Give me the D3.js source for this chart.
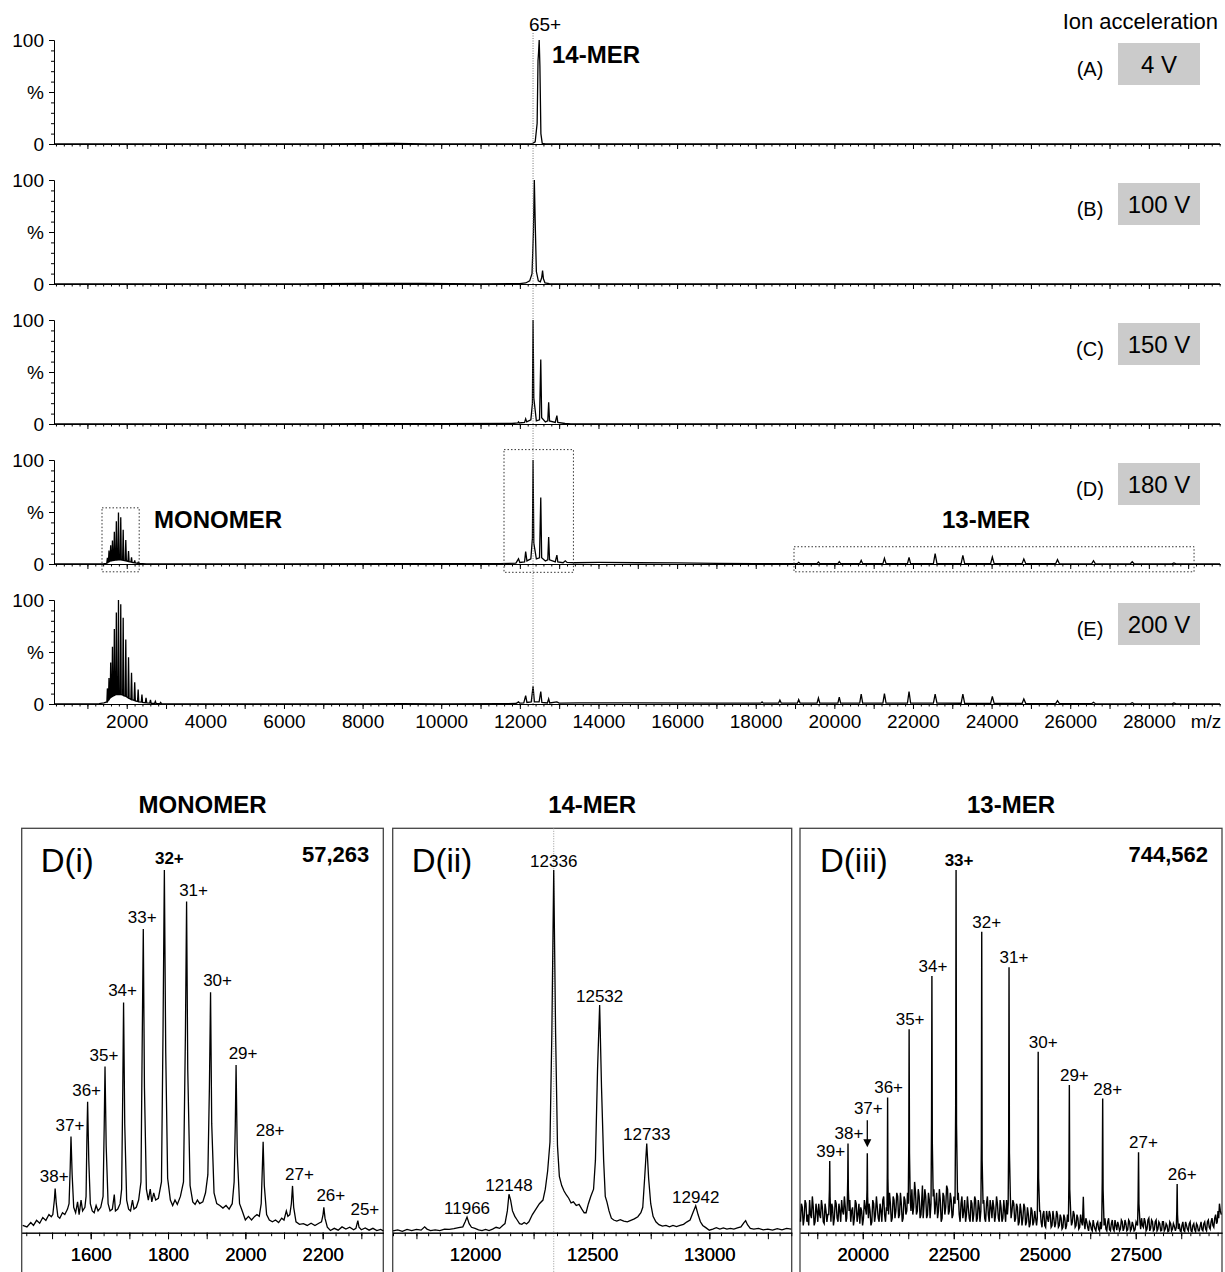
<!DOCTYPE html>
<html>
<head>
<meta charset="utf-8">
<script src="https://cdn.jsdelivr.net/npm/d3@7"></script>
<style>
  body { margin: 0; background: #fff; }
  svg { font-family: "Liberation Sans", Arial, sans-serif; }
</style>
</head>
<body>
<svg id="chart"></svg>
<script>
// ---------- overview spectra (A)-(E): [m/z, relative intensity %]
const specA = [[150,0],[7000,0],[8000,0.3],[8800,0.5],[9600,0.2],[11000,0],[12300,0],[12390,2],
  [12440,20],[12462,80],[12476,88],[12492,100],[12510,75],[12535,10],[12570,0.5],[12650,0],[29810,0]];

const specB = [[150,0],[6500,0],[7000,0.4],[8000,0.6],[9500,0.5],[11000,0.2],[12000,0.3],[12150,1],
  [12250,3],[12310,10],[12345,50],[12368,100],[12390,60],[12420,12],[12470,3],[12520,2],[12555,6],
  [12578,13],[12600,5],[12640,1],[12750,0.3],[29810,0]];

const specC = [[150,0],[7000,0],[8000,0.3],[10000,0.3],[11800,0.5],[11950,1],[11966,2],[11985,1],
  [12120,1.5],[12148,5],[12175,2],[12280,4],[12320,20],[12336,100],[12355,25],[12420,3],[12500,4],
  [12532,62],[12555,6],[12650,2],[12710,3],[12733,21],[12755,3],[12900,1.5],[12942,8],[12965,1.5],
  [13150,0.5],[13300,0.2],[29810,0]];

const specD = [[150,0],[1400,0.2],[1480,0.6],
  [1493,1],[1508,6],[1523,1.5],[1535,2],[1549,13],[1563,2.5],[1578,3],[1592,18],[1606,3],
  [1623,3.2],[1637,22.5],[1651,3.4],[1671,3.5],[1685,31],[1699,3.6],[1722,3.8],[1736,41],[1750,3.9],
  [1776,4],[1790,49.5],[1804,4],[1834,4],[1848,45],[1862,3.8],[1895,3.6],[1910,33],[1925,3.4],
  [1961,3.2],[1976,23],[1991,3],[2031,2.6],[2046,12.5],[2061,2.2],[2107,2],[2122,6.5],[2137,1.6],
  [2188,1.2],[2203,3.5],[2218,1],[2276,0.7],[2291,1.6],[2306,0.5],[2500,0.2],[3000,0],[6000,0],
  [9000,0.3],[11500,0.3],
  [11900,0.8],[11966,5],[12000,1.5],[12120,2],[12148,12],[12180,3],[12280,5],[12320,25],[12336,100],
  [12355,20],[12420,5],[12500,6],[12532,64],[12555,6],[12650,3],[12710,4],[12733,26],[12755,4],
  [12900,2],[12942,8.6],[12965,2],[13100,1.2],[13155,3],[13200,1.5],
  [13400,1.2],[14000,1.5],[15000,1.2],[16000,1],[17000,0.6],[18000,0.4],[19000,0.3],
  [19060,0.3],[19093,1.6],[19130,0.3],[19560,0.3],[19595,1.9],[19630,0.3],[20090,0.3],[20125,2.2],
  [20160,0.3],[20645,0.3],[20683,3.5],[20720,0.3],[21235,0.3],[21274,5.4],[21315,0.3],[21860,0.3],
  [21900,6.4],[21940,0.3],[22520,0.3],[22564,10],[22610,0.3],[23225,0.3],[23269,8.3],[23315,0.3],
  [23975,0.3],[24019,6.7],[24065,0.3],[24775,0.3],[24820,4.8],[24870,0.3],[25630,0.3],[25676,4.2],
  [25725,0.3],[26545,0.2],[26592,3.2],[26640,0.2],[27530,0.2],[27577,2.2],[27625,0.2],[28590,0.1],
  [28638,1],[28690,0.1],[29810,0]];

const specE = [[150,0],[1300,0.3],[1420,1],
  [1495,2],[1508,15],[1521,3],[1536,4],[1549,25],[1562,5],[1579,6],[1592,40],[1605,6.5],
  [1624,7],[1637,55],[1650,7.5],[1672,8],[1685,72],[1698,8.5],[1723,9],[1736,88],[1749,9],
  [1777,9],[1790,100],[1803,9],[1835,9],[1848,96],[1861,9],[1896,8.5],[1910,83],[1924,8],
  [1961,7.5],[1976,62],[1990,7],[2031,6],[2046,45],[2061,5.5],[2106,4.5],[2122,30],[2138,4],
  [2187,3.5],[2203,21],[2219,3],[2275,2.5],[2291,14],[2307,2],[2370,1.8],[2387,9],[2404,1.5],
  [2473,1.2],[2491,6],[2509,1],[2585,0.8],[2604,4],[2623,0.7],[2708,0.5],[2728,2.5],[2748,0.4],
  [2843,0.3],[2864,1.5],[2885,0.2],[3200,0.1],[8000,0.1],[9000,0.4],[10000,0.2],[11500,0.3],
  [11900,0.5],[11966,2],[12000,0.8],[12100,1],[12148,8],[12180,1.5],[12290,2],[12336,17],[12370,2],
  [12490,2],[12532,12],[12560,1.5],[12700,1],[12733,5],[12760,1],[12942,2],[13000,0.8],[13500,1],
  [15000,1],[17000,0.8],[18000,0.9],
  [18130,0.8],[18161,2],[18190,0.8],[18580,0.8],[18615,3.8],[18650,0.8],[19060,0.8],[19093,4.2],
  [19130,0.8],[19560,0.8],[19595,5.8],[19630,0.8],[20090,0.8],[20125,6.7],[20160,0.8],[20645,0.8],
  [20683,9.6],[20720,0.8],[21235,0.8],[21274,10],[21315,0.8],[21860,0.8],[21900,12],[21940,0.8],
  [22520,0.8],[22564,9.6],[22610,0.8],[23225,0.7],[23269,9.6],[23315,0.7],[23975,0.6],[24019,7.3],
  [24065,0.6],[24775,0.5],[24820,4.8],[24870,0.5],[25630,0.4],[25676,3.2],[25725,0.4],[26545,0.3],
  [26592,1.6],[26640,0.3],[27530,0.2],[27577,1.3],[27625,0.2],[28590,0.1],[28638,1],[28690,0.1],
  [29810,0]];

const spectra = [specA, specB, specC, specD, specE];
const panelLetters = ["(A)", "(B)", "(C)", "(D)", "(E)"];
const voltages = ["4 V", "100 V", "150 V", "180 V", "200 V"];
const overviewTickLabels = [2000,4000,6000,8000,10000,12000,14000,16000,18000,20000,22000,24000,26000,28000];
const mainPeakMz = 12336;

// ---------- expanded views of (D)
const monomerTrace = [[1424,2],[1435,1.6],[1445,2.8],[1452,2],[1460,3.4],[1468,2.6],[1476,4.2],
  [1484,3.4],[1492,5],[1498,4.4],
  [1502,5],[1506,9],[1508,12.2],[1511,8],[1515,4.5],[1520,4],[1527,5.5],[1533,5],[1540,6.5],
  [1544,8],[1547,18],[1549,26.5],[1552,16],[1556,7],[1561,5.5],[1566,8.5],[1570,5],[1575,9],
  [1579,6],[1585,7],
  [1588,10],[1590,25],[1592,36.1],[1595,20],[1599,8],[1604,6],[1609,5.5],[1614,7.5],[1619,6],[1626,7],
  [1632,10],[1635,30],[1637,45.8],[1640,24],[1645,8],[1650,6],[1656,6.5],[1661,10.5],[1664,6],
  [1670,6.5],[1676,8],
  [1680,12],[1683,40],[1685,63.5],[1688,30],[1693,9],[1698,6.5],[1703,6],[1708,9],[1712,6.5],
  [1718,7],[1724,9],
  [1730,14],[1733,50],[1736,83.7],[1739,40],[1744,12],[1749,9],[1754,12],[1758,8.5],[1763,11],
  [1768,9],[1775,9.5],
  [1783,14],[1787,55],[1790.5,100],[1794,50],[1799,15],[1806,9],[1812,7.5],[1818,9],[1824,7.8],[1832,10],
  [1840,14],[1845,55],[1848,91.3],[1851,45],[1857,13],[1864,8.5],[1870,7.8],[1876,9],[1882,8],
  [1890,8.5],[1897,11],
  [1903,16],[1907,40],[1910,66.3],[1913,30],[1919,11],[1926,8],[1934,7.5],[1942,6.8],[1950,7.5],
  [1958,6.5],[1966,8],
  [1971,14],[1974,30],[1976,46.2],[1979,22],[1985,8],[1992,6],[2000,3.5],[2008,4.5],[2016,3.5],
  [2024,4.5],[2030,5],[2036,4.5],
  [2041,8],[2044,18],[2046,25.1],[2049,13],[2055,5],[2062,3.5],[2070,3],[2078,3.5],[2086,2.8],
  [2094,4],[2100,3.5],[2106,6],[2110,4.5],[2115,5],
  [2119,8],[2122,12.9],[2125,7],[2131,3],[2140,2.3],[2150,2.5],[2160,2],[2170,2.6],[2180,2],
  [2190,2.6],[2197,3],
  [2201,5],[2203,7],[2206,4],[2212,1.5],[2220,0.6],[2230,1.2],[2240,0.7],[2250,1.6],[2260,1],
  [2270,1.5],[2280,0.8],[2286,1.2],
  [2289,2.5],[2291,3.3],[2294,1.5],[2300,0.8],[2310,1.3],[2320,0.7],[2330,1.2],[2340,0.6],
  [2350,0.9],[2357,0.5]];

const monomerPeaks = [["38+",1508,12.2],["37+",1549,26.5],["36+",1592,36.1],["35+",1637,45.8],
  ["34+",1685,63.5],["33+",1736,83.7],["32+",1790.5,100],["31+",1848,91.3],["30+",1910,66.3],
  ["29+",1976,46.2],["28+",2046,25.1],["27+",2122,12.9],["26+",2203,7],["25+",2291,3.3]];

const tetradecamerTrace = [[11650,0.5],[11670,0.8],[11690,0.4],[11710,0.9],[11730,0.6],[11750,0.9],
  [11770,0.7],[11785,1.6],[11795,1],[11810,0.6],[11830,0.8],[11850,0.6],[11870,1],[11890,0.9],
  [11910,1.1],[11930,1.4],[11948,1.6],
  [11958,3],[11966,4.3],[11975,2.5],[11985,1.5],[12000,1.2],[12015,0.8],[12030,0.6],[12045,0.9],
  [12060,0.6],[12075,1],[12090,1.5],[12105,1.2],[12118,2],[12128,2.5],
  [12138,6],[12145,10.6],[12152,9],[12160,6],[12170,4.5],[12180,3.5],[12190,2.5],[12200,2.3],
  [12210,2.8],[12220,2.4],[12230,3],[12245,5],[12260,6.5],[12275,8],[12290,9],[12300,12],[12310,17],
  [12320,25],[12328,55],[12336,100],[12344,55],[12352,24],[12360,15.5],[12370,13],[12380,11.5],
  [12390,10.4],[12400,9.5],[12410,8.2],[12420,8.5],[12432,7.5],[12444,7.8],[12456,6.5],[12466,5.5],
  [12474,5.5],[12484,8],[12494,10],[12506,12],[12514,20],[12523,45],[12532,62.8],[12540,40],
  [12549,20],[12556,10],[12563,8.5],[12572,6],[12582,4],[12592,3.5],[12605,3.2],[12620,3.6],
  [12635,3.2],[12650,3],[12665,3.4],[12680,3.8],[12695,4.4],[12708,5.5],[12716,7],[12724,15],
  [12733,24.6],[12741,15],[12750,8],[12760,4.5],[12772,3],[12785,2.2],[12800,1.8],[12815,2],
  [12830,1.6],[12845,2],[12860,1.7],[12875,2],[12890,2.3],[12905,3],[12918,3.5],[12930,5.5],
  [12942,7.4],[12952,5],[12962,3],[12972,2],[12985,1.4],[13000,0.7],[13015,1],[13030,1.4],
  [13045,1],[13060,1.3],[13075,1],[13090,1.2],[13105,1],[13120,1.3],[13135,1.6],[13148,2.8],
  [13155,3.3],[13163,2.2],[13175,1.2],[13190,1],[13210,1.2],[13230,0.8],[13250,1],[13270,0.7],
  [13290,1.1],[13310,0.8],[13330,1.2],[13350,1]];

const tetradecamerPeaks = [["11966",11966,4.3],["12148",12145,10.6],["12336",12336,100],
  ["12532",12532,62.8],["12733",12733,24.6],["12942",12942,7.4]];

const tridecamerTrace = [[18290,3],[18315,8],[18340,7],[18365,2],[18390,4],[18415,9],[18440,8],[18465,3],
  [18490,5],[18515,2],[18540,9],[18565,5],[18590,4],[18615,10],[18640,7],[18665,2],[18690,3],[18715,8],
  [18740,6],[18765,3],[18790,8],[18815,5],[18840,4],[18865,9],[18890,7],[18915,3],[18940,2.5],
  [18965,8],[18990,6],[19015,3],[19040,5],
  [19065,5],[19085,12],[19093,19.8],[19102,10],[19125,3],
  [19150,8],[19170,7],[19195,2],[19220,4],[19245,9],[19270,8],[19295,4],[19320,3],[19345,8],[19370,6],
  [19395,3],[19420,9],[19445,6],[19470,5],[19495,10],[19520,7],[19540,3],[19560,4],
  [19575,8],[19588,15],[19595,24.6],[19604,12],[19625,6],
  [19645,9],[19670,3],[19695,6],[19720,7],[19745,2],[19770,4],[19795,9],[19820,8],[19845,3],[19870,5],
  [19895,8],[19920,2.5],[19945,7],[19970,6],[19995,2],[20020,4],[20045,9],[20070,7],
  [20100,5],[20117,12],[20125,21.9],[20134,10],[20155,4],
  [20175,8],[20200,6],[20225,2],[20250,3],[20275,9],[20300,8],[20325,3],[20350,5],[20375,10],[20400,7],
  [20425,4],[20450,3],[20475,8],[20500,6],[20525,3],[20550,9],[20575,10],[20600,5],[20625,3],[20650,7],
  [20665,6],[20676,18],[20683,37.3],[20691,15],[20710,5],
  [20735,11],[20760,8],[20785,3],[20810,4],[20835,10],[20860,9],[20885,4],[20910,6],[20935,11],
  [20960,10],[20985,4],[21010,5],[21035,11],[21060,8],[21085,3],[21110,4],[21135,10],[21160,9],
  [21185,5],[21210,6],[21230,11],
  [21250,8],[21265,25],[21274,56.1],[21284,22],[21305,9],
  [21325,6],[21350,12],[21375,5],[21400,7],[21425,14],[21450,11],[21475,5],[21500,6],[21525,12],
  [21550,10],[21575,4],[21600,5],[21620,9],[21640,13],[21660,4],[21680,7],[21705,12],[21730,10],
  [21755,4],[21780,5],[21805,11],[21830,9],[21850,4],
  [21875,8],[21890,30],[21900,70.8],[21911,25],[21935,10],
  [21955,12],[21980,5],[22005,8],[22030,11],[22055,4],[22080,6],[22105,12],[22130,9],[22155,3],
  [22180,4],[22205,11],[22230,10],[22255,5],[22280,7],[22305,13],[22330,12],[22355,5],[22380,6],
  [22405,11],[22430,9],[22455,4],[22480,5],[22505,10],
  [22535,8],[22553,35],[22564,100],[22576,30],[22605,9],
  [22625,11],[22650,5],[22675,3],[22700,8],[22725,10],[22750,4],[22775,6],[22800,9],[22825,3],[22850,5],
  [22875,10],[22900,7],[22925,4],[22950,3],[22975,9],[23000,8],[23025,3],[23050,5],[23075,10],
  [23100,9],[23125,3],[23150,4],[23175,9],[23200,7],[23220,3],
  [23245,6],[23259,25],[23269,83],[23280,20],[23305,8],
  [23325,9],[23350,4],[23375,3],[23400,8],[23425,10],[23450,5],[23475,3],[23500,9],[23525,7],[23550,4],
  [23575,9],[23600,7],[23625,3],[23650,5],[23675,10],[23700,8],[23725,4],[23750,3],[23775,9],
  [23800,7],[23825,3],[23850,4],[23875,9],[23900,6],[23925,3],[23950,9],[23975,5],
  [23995,8],[24009,25],[24019,73.2],[24030,22],[24055,10],
  [24075,4],[24100,6],[24125,9],[24150,8],[24175,3],[24200,4],[24225,8],[24250,7],[24275,2],[24300,3],
  [24325,8],[24350,6],[24375,2],[24400,4],[24425,8],[24450,7],[24475,2],[24500,3],[24525,7],[24550,5],
  [24575,1.5],[24600,2.5],[24625,7],[24650,6],[24675,2],[24700,3],[24725,6],[24750,4],[24775,2],
  [24795,4],[24810,18],[24820,49.9],[24831,15],[24860,6],
  [24880,6],[24900,3],[24925,1.5],[24950,5],[24975,6],[25000,2],[25025,1.5],[25050,6],[25075,4],
  [25100,3],[25125,6],[25150,5],[25175,1.5],[25200,2],[25225,6],[25250,4],[25275,1.5],[25300,2.5],
  [25325,6],[25350,5],[25375,1.5],[25400,2],[25425,5],[25450,4],[25475,1],[25500,1.5],[25525,5],
  [25550,4],[25575,1],[25600,2],[25625,5],
  [25650,3],[25665,15],[25676,40.7],[25687,12],[25715,5],
  [25735,2],[25760,3],[25785,6],[25810,5],[25835,1.5],[25860,2],[25885,5],[25910,4],[25935,1],
  [25960,1.5],[25985,5],[26010,3],[26035,2],[26060,9.9],[26080,3],[26105,1],[26130,4],[26155,3],
  [26180,1.5],[26205,0.5],[26230,3],[26255,2.5],[26280,1],[26305,0.5],[26330,3.5],[26355,2],
  [26380,1],[26405,0.5],[26430,2.5],[26455,3],[26480,1],[26505,0.5],[26530,3],[26550,1],
  [26565,2],[26580,14],[26592,37],[26603,12],[26630,2],
  [26655,4],[26680,1],[26705,0.5],[26730,3],[26755,4],[26780,0.8],[26805,0.5],[26830,2.5],[26855,3.5],
  [26880,1],[26905,0.5],[26930,3.5],[26955,2],[26980,0.7],[27005,3],[27030,2],[27055,0.5],[27080,1],
  [27105,3.5],[27130,3],[27155,0.5],[27180,1.2],[27205,3.5],[27230,2.5],[27255,0.5],[27280,0.8],
  [27305,3.5],[27330,3],[27355,0.5],[27380,1],[27405,3],[27430,2],[27455,0.5],[27480,0.8],[27510,3],
  [27550,2],[27565,9],[27577,22.2],[27588,8],[27615,3],
  [27635,1],[27660,4],[27685,2],[27710,1.5],[27735,4],[27760,3],[27785,0.5],[27810,1],[27835,3.5],
  [27860,4],[27885,0.5],[27910,1.2],[27935,3.5],[27960,3],[27985,0.5],[28010,0.8],[28035,3],[28060,3.5],
  [28085,0.5],[28110,1],[28135,3],[28160,2.5],[28185,0.5],[28210,0.6],[28235,3],[28260,3],[28285,0.5],
  [28310,1],[28335,2.5],[28360,2],[28385,0.3],[28410,0.5],[28435,3],[28460,2.5],[28485,0.5],[28510,1],
  [28535,2.5],[28560,1.8],[28590,0.5],
  [28615,1.5],[28628,6],[28638,13.4],[28648,5],[28670,1],
  [28695,2.5],[28720,0.5],[28745,0.3],[28770,2],[28795,3],[28820,0.6],[28845,0.3],[28870,3],[28895,2],
  [28920,1],[28945,0.5],[28970,2.5],[28995,3],[29020,0.5],[29045,0.3],[29070,2],[29095,2.5],[29120,0.8],
  [29145,0.3],[29170,2.5],[29195,2],[29220,0.5],[29245,0.5],[29270,1.8],[29295,3],[29320,0.8],
  [29345,0.5],[29370,2.5],[29395,3],[29420,1],[29445,0.5],[29470,3],[29495,3.5],[29520,1.5],
  [29545,1],[29570,3],[29595,4],[29620,2],[29645,1.5],[29670,4],[29695,5],[29720,2.5],[29740,3],
  [29760,6],[29780,4],[29800,8],[29825,6],[29850,5]];

const tridecamerPeaks = [["39+",19093,19.8],["38+",19595,24.6],["37+",20125,21.9],["36+",20683,37.3],
  ["35+",21274,56.1],["34+",21900,70.8],["33+",22564,100],["32+",23269,83],["31+",24019,73.2],
  ["30+",24820,49.9],["29+",25676,40.7],["28+",26592,37],["27+",27577,22.2],["26+",28638,13.4]];

const monomerTickLabels = [1600, 1800, 2000, 2200];
const tetradecamerTickLabels = [12000, 12500, 13000];
const tridecamerTickLabels = [20000, 22500, 25000, 27500];

// ---------- drawing
const svg = d3.select("#chart").attr("width", 1225).attr("height", 1272);
const font = '"Liberation Sans", Arial, sans-serif';

const xTop = d3.scaleLinear().domain([150, 29810]).range([54, 1220]);
const panelH = 104;
const panelTop = i => 40 + i * 140;

spectra.forEach((spec, i) => {
  const g = svg.append("g").attr("transform", `translate(0,${panelTop(i)})`);
  const y = d3.scaleLinear().domain([0, 100]).range([panelH, 0]);

  // x axis: minor ticks every 200, major every 1000
  g.append("g").attr("transform", `translate(0,${panelH})`)
    .call(d3.axisBottom(xTop).tickValues(d3.range(200, 29810, 200)).tickSize(2.5).tickSizeOuter(0).tickFormat(""));
  g.append("g").attr("transform", `translate(0,${panelH})`)
    .call(d3.axisBottom(xTop).tickValues(d3.range(1000, 29810, 1000)).tickSize(5).tickSizeOuter(0).tickPadding(6)
      .tickFormat(d => (i === 4 && overviewTickLabels.includes(d)) ? d : ""))
    .attr("font-size", 19).attr("font-family", font);

  // y axis
  g.append("g").attr("transform", "translate(54,0)")
    .call(d3.axisLeft(y).tickValues(d3.range(0, 101, 10)).tickSize(3).tickSizeOuter(0).tickFormat(""));
  g.append("g").attr("transform", "translate(54,0)")
    .call(d3.axisLeft(y).tickValues([0, 50, 100]).tickSize(5).tickSizeOuter(0).tickPadding(5)
      .tickFormat(d => d === 50 ? "%" : d))
    .attr("font-size", 19).attr("font-family", font);

  g.append("path").datum(spec)
    .attr("d", d3.line().x(d => xTop(d[0])).y(d => y(d[1])))
    .attr("fill", "none").attr("stroke", "#000").attr("stroke-width", 1.3);

  // acceleration voltage tag
  g.append("rect").attr("x", 1118).attr("y", 3).attr("width", 82).attr("height", 42).attr("fill", "#cbcbcb");
  g.append("text").attr("x", 1159).attr("y", 33).attr("text-anchor", "middle")
    .attr("font-size", 24).text(voltages[i]);
  g.append("text").attr("x", 1090).attr("y", 36).attr("text-anchor", "middle")
    .attr("font-size", 20).text(panelLetters[i]);
});

svg.append("text").attr("x", 1218).attr("y", 29).attr("text-anchor", "end")
  .attr("font-size", 22).text("Ion acceleration");
svg.append("text").attr("x", 1206).attr("y", panelTop(4) + panelH + 24).attr("text-anchor", "middle")
  .attr("font-size", 19).text("m/z");

// dotted guide through the 14-mer main peak
svg.append("line")
  .attr("x1", xTop(mainPeakMz)).attr("x2", xTop(mainPeakMz))
  .attr("y1", 33).attr("y2", panelTop(4) + panelH + 2)
  .attr("stroke", "#777").attr("stroke-width", 1).attr("stroke-dasharray", "1,1.5");

svg.append("text").attr("x", xTop(mainPeakMz) + 12).attr("y", 31).attr("text-anchor", "middle")
  .attr("font-size", 19).text("65+");
svg.append("text").attr("x", 552).attr("y", 63).attr("font-size", 24).attr("font-weight", "bold").text("14-MER");

// annotations on panel (D)
const yD = d3.scaleLinear().domain([0, 100]).range([panelTop(3) + panelH, panelTop(3)]);
const regionBoxes = [[1371, 2317, 54, -7.5], [11597, 13363, 110, -8], [18974, 29150, 16.6, -7.5]];
regionBoxes.forEach(([m0, m1, top, bot]) => {
  svg.append("rect")
    .attr("x", xTop(m0)).attr("y", yD(top))
    .attr("width", xTop(m1) - xTop(m0)).attr("height", yD(bot) - yD(top))
    .attr("fill", "none").attr("stroke", "#333").attr("stroke-width", 1).attr("stroke-dasharray", "1.5,2");
});
svg.append("text").attr("x", 154).attr("y", 528).attr("font-size", 24).attr("font-weight", "bold").text("MONOMER");
svg.append("text").attr("x", 942).attr("y", 528).attr("font-size", 24).attr("font-weight", "bold").text("13-MER");

// ---------- expanded panels
const yBot = d3.scaleLinear().domain([0, 100]).range([1232.7, 870]);
const boxTop = 828.3;

const zoomPanels = [
  { title: "MONOMER", tag: "D(i)", mass: "57,263", left: 21.7, right: 383.3, domain: [1421.5, 2356.8],
    trace: monomerTrace, peaks: monomerPeaks, labels: monomerTickLabels,
    major: d3.range(1500, 2357, 100), minor: d3.range(1433.33, 2357, 100 / 3), bold: "32+" },
  { title: "14-MER", tag: "D(ii)", mass: "", left: 392.7, right: 791.7, domain: [11648.7, 13351.7],
    trace: tetradecamerTrace, peaks: tetradecamerPeaks, labels: tetradecamerTickLabels,
    major: d3.range(11750, 13352, 250), minor: d3.range(11650, 13352, 50), bold: "" },
  { title: "13-MER", tag: "D(iii)", mass: "744,562", left: 800, right: 1222, domain: [18276, 29870],
    trace: tridecamerTrace, peaks: tridecamerPeaks, labels: tridecamerTickLabels,
    major: d3.range(18750, 29870, 1250), minor: d3.range(18500, 29870, 250), bold: "33+" }
];

zoomPanels.forEach((p, k) => {
  const x = d3.scaleLinear().domain(p.domain).range([p.left, p.right]);
  const g = svg.append("g");
  const cx = (p.left + p.right) / 2;

  g.append("text").attr("x", cx).attr("y", 812.7).attr("text-anchor", "middle")
    .attr("font-size", 24).attr("font-weight", "bold").text(p.title);
  g.append("rect").attr("x", p.left).attr("y", boxTop).attr("width", p.right - p.left).attr("height", 500)
    .attr("fill", "none").attr("stroke", "#444").attr("stroke-width", 1.3);

  if (k === 1) {
    g.append("line").attr("x1", x(mainPeakMz)).attr("x2", x(mainPeakMz)).attr("y1", boxTop).attr("y2", 1272)
      .attr("stroke", "#999").attr("stroke-width", 1).attr("stroke-dasharray", "1,1.5");
  }

  g.append("g").attr("transform", "translate(0,1232.7)")
    .call(d3.axisBottom(x).tickValues(p.minor).tickSize(3.5).tickSizeOuter(0).tickFormat(""));
  g.append("g").attr("transform", "translate(0,1232.7)")
    .call(d3.axisBottom(x).tickValues(p.major.concat(p.labels)).tickSize(6.5).tickSizeOuter(0).tickPadding(9)
      .tickFormat(d => p.labels.includes(d) ? d : ""))
    .attr("font-size", 18.5).attr("font-family", font);

  g.append("path").datum(p.trace)
    .attr("d", d3.line().x(d => x(d[0])).y(d => yBot(d[1])))
    .attr("fill", "none").attr("stroke", "#000").attr("stroke-width", k === 2 ? 1.4 : 1.3);

  g.append("text").attr("x", p.left + (k === 2 ? 20 : 19)).attr("y", 871.7).attr("font-size", 33).text(p.tag);
  if (p.mass) {
    g.append("text").attr("x", p.right - 14).attr("y", 862).attr("text-anchor", "end")
      .attr("font-size", 22).attr("font-weight", "bold").text(p.mass);
  }

  p.peaks.forEach(([lab, mz, h]) => {
    const px = x(mz), py = yBot(h);
    let dx = 0, dy = -4;
    if (k === 0) { dx = mz > 1795 ? 7 : (mz > 1780 ? 5 : -1); dy = -6; }
    if (k === 1) { dx = 0; dy = -3; }
    if (k === 2) { dx = mz > 22600 ? 5 : (mz > 22500 ? 3 : 1); dy = -4; }
    if (lab === "37+" && k === 2) {
      dy = -39;
      g.append("line").attr("x1", px).attr("x2", px).attr("y1", py - 33).attr("y2", py - 12)
        .attr("stroke", "#000").attr("stroke-width", 1.3);
      g.append("path").attr("d", `M${px - 4},${py - 14}L${px + 4},${py - 14}L${px},${py - 6}Z`).attr("fill", "#000");
    }
    g.append("text").attr("x", px + dx).attr("y", py + dy).attr("text-anchor", "middle")
      .attr("font-size", 17).attr("font-weight", lab === p.bold ? "bold" : "normal").text(lab);
  });
});
</script>
</body>
</html>
